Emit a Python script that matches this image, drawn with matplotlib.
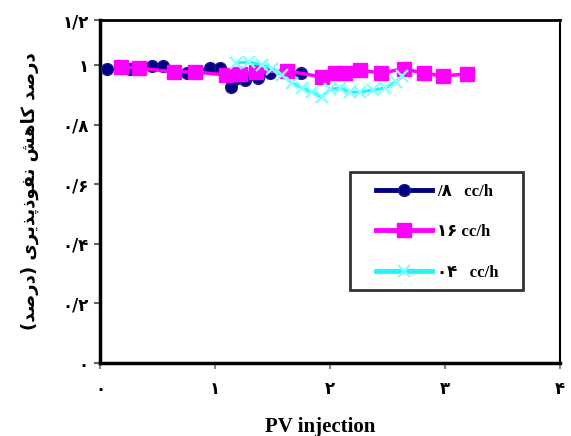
import matplotlib
matplotlib.use("Agg")
import matplotlib.pyplot as plt
from matplotlib.patches import Rectangle

# ---- data -------------------------------------------------------------
x_08 = [0.06, 0.26, 0.45, 0.55, 0.76, 0.96, 1.04, 1.14, 1.26, 1.37, 1.48, 1.75]
y_08 = [0.987, 0.987, 0.997, 0.997, 0.973, 0.990, 0.990, 0.926, 0.950, 0.956, 0.973, 0.973]

x_16 = [0.18, 0.34, 0.64, 0.83, 1.10, 1.22, 1.36, 1.63, 1.93, 2.04, 2.13, 2.26,
        2.44, 2.64, 2.82, 2.98, 3.19]
y_16 = [0.993, 0.990, 0.977, 0.977, 0.966, 0.970, 0.977, 0.980, 0.960, 0.973,
        0.973, 0.983, 0.973, 0.987, 0.973, 0.963, 0.970]

x_04 = [1.18, 1.30, 1.41, 1.50, 1.58, 1.67, 1.76, 1.84, 1.93, 2.00, 2.09, 2.17,
        2.26, 2.37, 2.48, 2.57, 2.63]
y_04 = [1.007, 1.010, 1.000, 0.987, 0.966, 0.940, 0.923, 0.909, 0.893, 0.919,
        0.923, 0.909, 0.909, 0.916, 0.923, 0.943, 0.963]

series_labels = ["/۸   cc/h", "۱۶ cc/h", "۰۴   cc/h"]

x_ticks = [0, 1, 2, 3, 4]
x_tick_labels = ["۰", "۱", "۲", "۳", "۴"]
y_ticks = [0.0, 0.2, 0.4, 0.6, 0.8, 1.0, 1.151]
y_tick_labels = ["۰", "۰/۲", "۰/۴", "۰/۶", "۰/۸", "۱", "۱/۲"]

x_title = "PV injection"
y_title = "درصد کاهش نفوذپذیری (درصد)"

# ---- minimal Persian shaping (presentation forms, visual order) --------
AR_FORMS = {
    'ا': ('\uFE8D', '\uFE8E', None, None),
    'د': ('\uFEA9', '\uFEAA', None, None),
    'ذ': ('\uFEAB', '\uFEAC', None, None),
    'ر': ('\uFEAD', '\uFEAE', None, None),
    'و': ('\uFEED', '\uFEEE', None, None),
    'ص': ('\uFEB9', '\uFEBA', '\uFEBB', '\uFEBC'),
    'ش': ('\uFEB5', '\uFEB6', '\uFEB7', '\uFEB8'),
    'ه': ('\uFEE9', '\uFEEA', '\uFEEB', '\uFEEC'),
    'ن': ('\uFEE5', '\uFEE6', '\uFEE7', '\uFEE8'),
    'ف': ('\uFED1', '\uFED2', '\uFED3', '\uFED4'),
    'ک': ('\uFB8E', '\uFB8F', '\uFB90', '\uFB91'),
    'پ': ('\uFB56', '\uFB57', '\uFB58', '\uFB59'),
    'ی': ('\uFBFC', '\uFBFD', '\uFBFE', '\uFBFF'),
}


def shape_rtl(text):
    out = []
    n = len(text)
    for i, ch in enumerate(text):
        forms = AR_FORMS.get(ch)
        if forms is None:
            out.append(ch)
            continue
        prev = text[i - 1] if i > 0 else ''
        nxt = text[i + 1] if i + 1 < n else ''
        joins_prev = prev in AR_FORMS and AR_FORMS[prev][2] is not None
        joins_next = forms[2] is not None and nxt in AR_FORMS
        if joins_prev and joins_next:
            out.append(forms[3])
        elif joins_prev:
            out.append(forms[1])
        elif joins_next:
            out.append(forms[2])
        else:
            out.append(forms[0])
    mirror = {'(': ')', ')': '('}
    return ''.join(mirror.get(c, c) for c in reversed(out))


# ---- figure -----------------------------------------------------------
fig = plt.figure(figsize=(5.71, 4.36), dpi=100)
ax = fig.add_axes([0.1751, 0.1674, 0.8056, 0.7867])

ax.plot(x_08, y_08, color="#000080", lw=2.5, marker="o", ms=8.5,
        mfc="#000080", mec="#1a1a99", label=series_labels[0], zorder=3)
ax.plot(x_16, y_16, color="#FF00FF", lw=2.5, marker="s", ms=10,
        mfc="#FF00FF", mec="#FF00FF", label=series_labels[1], zorder=4)
ax.plot(x_04, y_04, color="#22F5F5", lw=2.2, marker="x", ms=8, mew=1.6,
        mec="#7FFFFF", label=series_labels[2], zorder=5)

ax.set_xlim(0, 4)
ax.set_ylim(0, 1.151)

digit_font = ["DejaVu Sans"]
ax.set_xticks(x_ticks)
ax.set_xticklabels(x_tick_labels, fontsize=12, fontweight="bold", family=digit_font)
ax.set_yticks(y_ticks)
ax.set_yticklabels(y_tick_labels, fontsize=12, fontweight="bold", family=digit_font)
ax.tick_params(axis="y", direction="out", length=4, width=1.5, color="#666666", pad=4)
ax.tick_params(axis="x", direction="out", length=4, width=1.5, color="#888888", pad=8)

for side, w in (("left", 2.5), ("bottom", 2.5), ("top", 2.0), ("right", 1.5)):
    ax.spines[side].set_linewidth(w)
    ax.spines[side].set_color("black")

ax.set_xlabel(x_title, fontsize=15, fontweight="bold", family="Liberation Serif")
ax.xaxis.set_label_coords(0.478, -0.157)
ax.set_ylabel(shape_rtl(y_title), fontsize=13, fontweight="bold",
              family=["DejaVu Sans"], labelpad=17)

# legend box
ax.add_patch(Rectangle((0.543, 0.213), 0.377, 0.344, transform=ax.transAxes,
                       facecolor="white", edgecolor="#333333", lw=2.0, zorder=6))
leg = ax.legend(loc="upper left", bbox_to_anchor=(0.6, 0.523), frameon=False,
                prop={"family": ["Liberation Serif", "DejaVu Sans"],
                      "weight": "bold", "size": 12},
                handlelength=3.35, handletextpad=0.3, labelspacing=1.47,
                borderpad=0.0, borderaxespad=0.0)
leg.set_zorder(7)
for line in leg.get_lines():
    line.set_linewidth(3.5)

fig.savefig("out.png", dpi=100)
